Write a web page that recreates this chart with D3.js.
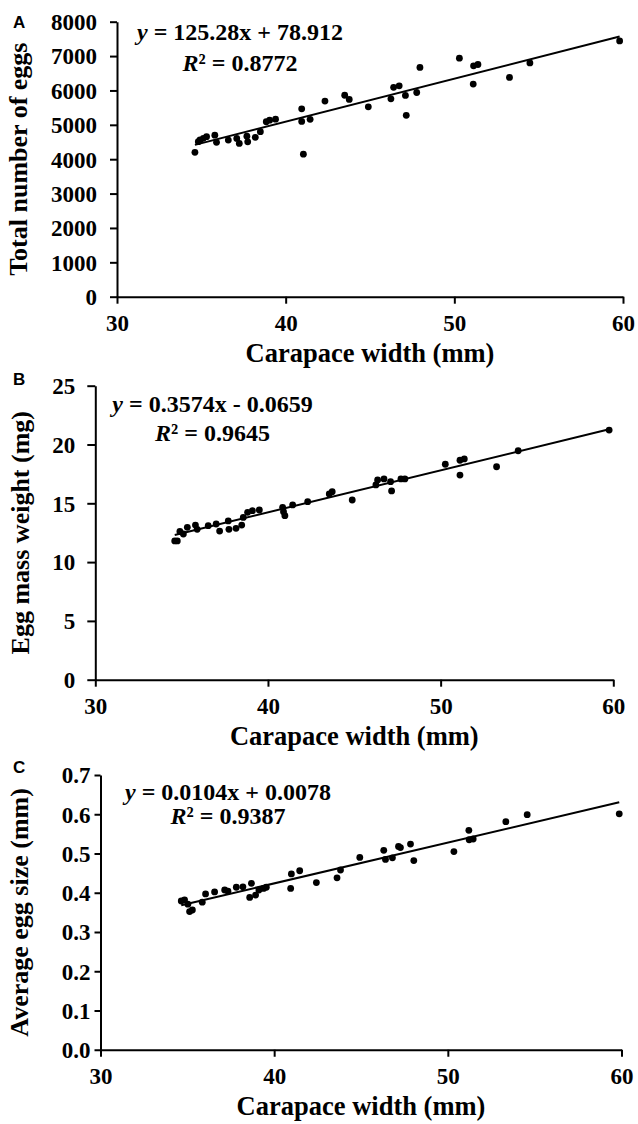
<!DOCTYPE html>
<html>
<head>
<meta charset="utf-8">
<script src="https://cdn.jsdelivr.net/npm/d3@7/dist/d3.min.js"></script>
<style>
  html, body { margin: 0; padding: 0; background: #fff; }
  svg { display: block; }
</style>
</head>
<body>
<svg id="chart" width="638" height="1124"></svg>
<script>
// ---------------- DATA ----------------
const xTicks = [30, 40, 50, 60];

// Panel A: total number of eggs vs carapace width
const widthA = [34.62, 34.82, 34.92, 35.12, 35.31, 35.8, 35.9, 36.6, 37.1, 37.25, 37.7, 37.75, 38.2, 38.5,
  38.85, 39.05, 39.4, 40.95, 40.95, 41.05, 41.45, 42.33, 43.5, 43.77, 44.9, 46.24, 46.4, 46.73, 47.1,
  47.15, 47.77, 47.96, 50.3, 51.12, 51.14, 51.4, 53.27, 54.48, 59.8];
const eggsA = [4200, 4509, 4558, 4607, 4654, 4700, 4490, 4555, 4605, 4460, 4670, 4505, 4635, 4800,
  5090, 5135, 5165, 5465, 5100, 4145, 5160, 5690, 5860, 5740, 5525, 5755, 6090, 6135, 5855,
  5275, 5940, 6670, 6940, 6185, 6715, 6755, 6380, 6800, 7440];
const yTicksA = [0, 1000, 2000, 3000, 4000, 5000, 6000, 7000, 8000];
const fitA = [125.28, 78.912];
const eqA = ["125.28x + 78.912", "0.8772"];

// Panel B: egg mass weight vs carapace width
const widthB = [34.6, 34.75, 34.9, 35.1, 35.33, 35.8, 35.9, 36.54, 37.0, 37.2, 37.7, 37.74, 38.15, 38.48,
  38.57, 38.82, 39.1, 39.5, 40.85, 40.9, 40.98, 41.43, 42.3, 43.55, 43.72, 44.88, 46.25, 46.35, 46.72,
  47.1, 47.16, 47.7, 47.93, 50.27, 51.12, 51.37, 51.12, 53.24, 54.49, 59.76];
const massB = [11.8, 11.8, 12.6, 12.39, 12.96, 13.15, 12.79, 13.1, 13.24, 12.64, 13.5, 12.79, 12.87, 13.15,
  13.8, 14.23, 14.37, 14.43, 14.66, 14.29, 13.95, 14.86, 15.14, 15.79, 15.99, 15.28, 16.56, 16.98, 17.07,
  16.84, 16.05, 17.07, 17.07, 18.32, 18.66, 18.77, 17.4, 18.11, 19.47, 21.23];
const yTicksB = [0, 5, 10, 15, 20, 25];
const fitB = [0.3574, -0.0659];
const eqB = ["0.3574x - 0.0659", "0.9645"];

// Panel C: average egg size vs carapace width
const widthC = [34.65, 34.84, 35.03, 35.13, 35.29, 35.86, 36.05, 36.57, 37.15, 37.34, 37.82, 38.2, 38.69,
  38.59, 38.93, 39.12, 39.39, 39.55, 40.99, 41.47, 40.95, 42.43, 43.62, 43.82, 44.93, 46.31, 46.41,
  46.81, 47.16, 47.27, 47.85, 48.04, 50.35, 51.21, 51.23, 51.46, 53.34, 54.57, 59.87];
const sizeC = [0.379, 0.382, 0.371, 0.352, 0.356, 0.376, 0.397, 0.402, 0.407, 0.404, 0.414, 0.415, 0.424,
  0.388, 0.394, 0.407, 0.411, 0.414, 0.448, 0.456, 0.411, 0.426, 0.438, 0.458, 0.49, 0.508, 0.485,
  0.489, 0.518, 0.515, 0.524, 0.482, 0.505, 0.559, 0.535, 0.537, 0.581, 0.599, 0.601];
const yTicksC = [0, 0.1, 0.2, 0.3, 0.4, 0.5, 0.6, 0.7];
const fitC = [0.0104, 0.0078];
const eqC = ["0.0104x + 0.0078", "0.9387"];

const xTitle = "Carapace width (mm)";
const yTitles = ["Total number of eggs", "Egg mass weight (mg)", "Average egg size (mm)"];
const panelLetters = ["A", "B", "C"];

// ---------------- DRAWING ----------------
const svg = d3.select("#chart");
const SERIF = "'Liberation Serif', 'Times New Roman', Times, serif";
const SANS = "'Liberation Sans', Arial, Helvetica, sans-serif";

function drawPanel(cfg) {
  const { xs, ys, yTicks, yFormat, fit, eq, letter, yTitle, box, eqPos, yTickPad, yTickLen } = cfg;
  const x = d3.scaleLinear().domain([30, 60]).range([box.left, box.right]);
  const y = d3.scaleLinear().domain([yTicks[0], yTicks[yTicks.length - 1]]).range([box.bottom, box.top]);
  const g = svg.append("g");

  // axes
  const xAxis = d3.axisBottom(x).tickValues(xTicks).tickSizeOuter(0).tickSizeInner(7).tickPadding(12)
    .tickFormat(d3.format("d"));
  const gx = g.append("g").attr("transform", `translate(0,${box.bottom})`).call(xAxis);
  const yAxis = d3.axisLeft(y).tickValues(yTicks).tickSizeOuter(0).tickSizeInner(yTickLen).tickPadding(yTickPad)
    .tickFormat(yFormat);
  const gy = g.append("g").attr("transform", `translate(${box.left},0)`).call(yAxis);
  [gx, gy].forEach(a => {
    a.selectAll("path.domain").attr("stroke", "#000").attr("stroke-width", 2);
    a.selectAll(".tick line").attr("stroke", "#000").attr("stroke-width", 2);
    a.selectAll(".tick text").attr("fill", "#000").style("font-family", SERIF)
      .style("font-weight", "bold").style("font-size", "23px");
  });
  gx.selectAll(".tick text").attr("dy", "0.68em");
  gy.selectAll(".tick text").attr("dy", "0.34em");

  // regression line
  const ext = d3.extent(xs);
  g.append("path")
    .datum(ext.map(v => [v, fit[0] * v + fit[1]]))
    .attr("d", d3.line().x(d => x(d[0])).y(d => y(d[1])))
    .attr("fill", "none").attr("stroke", "#000").attr("stroke-width", 2);

  // points
  g.append("g").selectAll("circle").data(xs.map((v, i) => [v, ys[i]])).join("circle")
    .attr("cx", d => x(d[0])).attr("cy", d => y(d[1])).attr("r", 3.4).attr("fill", "#000");

  // equation
  const t1 = g.append("text").attr("x", eqPos.x).attr("y", eqPos.y).attr("text-anchor", "middle")
    .style("font-family", SERIF).style("font-weight", "bold").style("font-size", "24px").attr("fill", "#000");
  t1.append("tspan").style("font-style", "italic").text("y");
  t1.append("tspan").text(" = " + eq[0]);
  const t2 = g.append("text").attr("x", eqPos.x).attr("y", eqPos.y + eqPos.gap).attr("text-anchor", "middle")
    .style("font-family", SERIF).style("font-weight", "bold").style("font-size", "24px").attr("fill", "#000");
  t2.append("tspan").style("font-style", "italic").text("R");
  t2.append("tspan").text("\u00B2 = " + eq[1]);

  // axis titles
  g.append("text").attr("x", (box.left + box.right) / 2).attr("y", box.bottom + 65)
    .attr("text-anchor", "middle").style("font-family", SERIF).style("font-weight", "bold")
    .style("font-size", "26.5px").attr("fill", "#000").text(xTitle);
  g.append("text")
    .attr("transform", `translate(${cfg.yTitleX},${(box.top + box.bottom) / 2}) rotate(-90)`)
    .attr("text-anchor", "middle").style("font-family", SERIF).style("font-weight", "bold")
    .style("font-size", "26px").attr("fill", "#000").text(yTitle);

  // panel letter
  g.append("text").attr("x", 13).attr("y", box.top + cfg.letterDy).style("font-family", SANS)
    .style("font-weight", "bold").style("font-size", "17px").attr("fill", "#000").text(letter);
}

drawPanel({
  xs: widthA, ys: eggsA, yTicks: yTicksA, yFormat: d3.format("d"), fit: fitA, eq: eqA,
  letter: panelLetters[0], yTitle: yTitles[0],
  box: { left: 117, right: 623, top: 21.7, bottom: 296.7 },
  eqPos: { x: 240, y: 40, gap: 30.5 }, yTickPad: 13, yTickLen: 7, yTitleX: 27, letterDy: 6.5
});
drawPanel({
  xs: widthB, ys: massB, yTicks: yTicksB, yFormat: d3.format("d"), fit: fitB, eq: eqB,
  letter: panelLetters[1], yTitle: yTitles[1],
  box: { left: 95.3, right: 613.3, top: 385.7, bottom: 679.7 },
  eqPos: { x: 212.5, y: 412, gap: 28.5 }, yTickPad: 12, yTickLen: 8, yTitleX: 29, letterDy: -0.5
});
drawPanel({
  xs: widthC, ys: sizeC, yTicks: yTicksC, yFormat: d3.format(".1f"), fit: fitC, eq: eqC,
  letter: panelLetters[2], yTitle: yTitles[2],
  box: { left: 100.5, right: 621.5, top: 775, bottom: 1049.75 },
  eqPos: { x: 228, y: 800, gap: 24 }, yTickPad: 4, yTickLen: 6, yTitleX: 28, letterDy: -2
});
</script>
</body>
</html>
